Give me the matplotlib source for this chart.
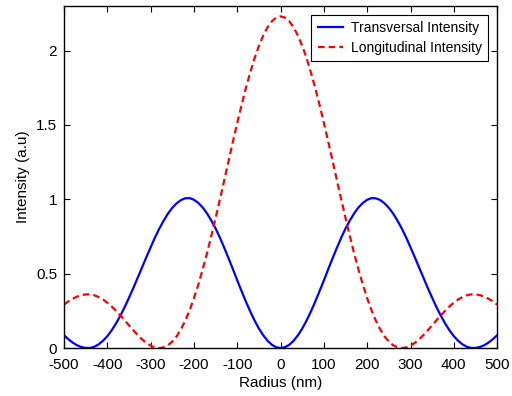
import numpy as np
import matplotlib.pyplot as plt

plt.rcParams['font.family'] = ['Liberation Sans', 'DejaVu Sans']
plt.rcParams['axes.unicode_minus'] = False

# Raio (nm), de -500 a 500 a cada 10 nm
radius = list(range(-500, 510, 10))

# Intensidades
transversal = [
    0.086, 0.060, 0.037, 0.019, 0.007, 0.001, 0.001, 0.009, 0.025, 0.049,
    0.080, 0.119, 0.165, 0.217, 0.275, 0.338, 0.403, 0.472, 0.541, 0.610,
    0.677, 0.743, 0.803, 0.856, 0.904, 0.943, 0.973, 0.995, 1.007, 1.008,
    0.997, 0.976, 0.946, 0.906, 0.858, 0.804, 0.742, 0.674, 0.603, 0.530,
    0.455, 0.383, 0.312, 0.246, 0.185, 0.131, 0.086, 0.049, 0.022, 0.006,
    0.000,
    0.006, 0.022, 0.049, 0.086, 0.131, 0.185, 0.246, 0.312, 0.383, 0.455,
    0.530, 0.603, 0.674, 0.742, 0.804, 0.858, 0.906, 0.946, 0.976, 0.997,
    1.008, 1.007, 0.995, 0.973, 0.943, 0.904, 0.856, 0.803, 0.743, 0.677,
    0.610, 0.541, 0.472, 0.403, 0.338, 0.275, 0.217, 0.165, 0.119, 0.080,
    0.049, 0.025, 0.009, 0.001, 0.001, 0.007, 0.019, 0.037, 0.060, 0.086]

longitudinal = [
    0.292, 0.314, 0.332, 0.346, 0.356, 0.361, 0.361, 0.355, 0.343, 0.327,
    0.305, 0.280, 0.251, 0.220, 0.187, 0.153, 0.120, 0.088, 0.059, 0.035,
    0.016, 0.004, 0.000, 0.005, 0.019, 0.044, 0.079, 0.126, 0.184, 0.254,
    0.335, 0.426, 0.527, 0.635, 0.753, 0.874, 1.000, 1.129, 1.259, 1.388,
    1.513, 1.634, 1.749, 1.853, 1.949, 2.031, 2.101, 2.157, 2.197, 2.222,
    2.230,
    2.222, 2.197, 2.157, 2.101, 2.031, 1.949, 1.853, 1.749, 1.634, 1.513,
    1.388, 1.259, 1.129, 1.000, 0.874, 0.753, 0.635, 0.527, 0.426, 0.335,
    0.254, 0.184, 0.126, 0.079, 0.044, 0.019, 0.005, 0.000, 0.004, 0.016,
    0.035, 0.059, 0.088, 0.120, 0.153, 0.187, 0.220, 0.251, 0.280, 0.305,
    0.327, 0.343, 0.355, 0.361, 0.361, 0.356, 0.346, 0.332, 0.314, 0.292]

xticks = [-500, -400, -300, -200, -100, 0, 100, 200, 300, 400, 500]
yticks = [0, 0.5, 1, 1.5, 2]
yticklabels = ['0', '0.5', '1', '1.5', '2']

fig = plt.figure(figsize=(5.12, 3.96), dpi=100)
ax = fig.add_axes([0.125, 0.121, 0.846, 0.864])

ax.plot(radius, transversal, '-', color='blue', lw=1.6, label='Transversal Intensity')
ax.plot(radius, longitudinal, '--', color='red', lw=1.6, dashes=(3, 1.8),
        label='Longitudinal Intensity')

ax.set_xlim(-500, 500)
ax.set_ylim(0, 2.3)
ax.set_xticks(xticks)
ax.set_yticks(yticks)
ax.set_yticklabels(yticklabels)
ax.tick_params(direction='in', top=True, right=True, length=4, labelsize=11, width=0.8)
ax.tick_params(axis='x', pad=7)
ax.tick_params(axis='y', pad=5)
for s in ax.spines.values():
    s.set_linewidth(1.0)

ax.set_xlabel('Radius (nm)', fontsize=11, labelpad=3)
ax.set_ylabel('Intensity (a.u)', fontsize=11, labelpad=4)

leg = ax.legend(loc='upper right', fontsize=10, fancybox=False, framealpha=1,
                edgecolor='black', borderaxespad=0.65, handlelength=1.8,
                handletextpad=0.6, borderpad=0.45, labelspacing=0.4)
leg.get_frame().set_linewidth(0.8)

fig.savefig('out.png', dpi=100)
